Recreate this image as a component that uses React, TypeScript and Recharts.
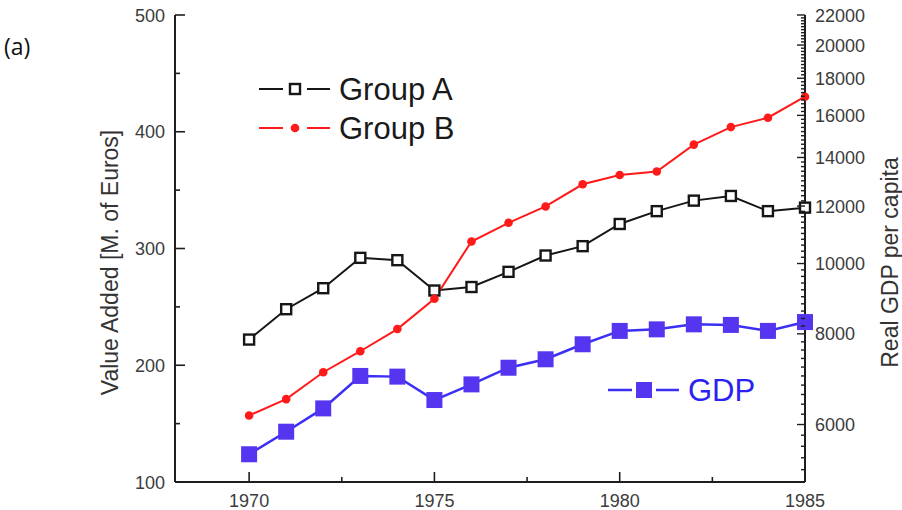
import React from "react";
import { ComposedChart, Line, XAxis, YAxis, Legend } from "recharts";

const years = [1970, 1971, 1972, 1973, 1974, 1975, 1976, 1977, 1978, 1979, 1980, 1981, 1982, 1983, 1984, 1985];
const groupA = [222, 248, 266, 292, 290, 264, 267, 280, 294, 302, 321, 332, 341, 345, 332, 335];
const groupB = [157, 171, 194, 212, 231, 257, 306, 322, 336, 355, 363, 366, 389, 404, 412, 430];
const gdp = [5460, 5865, 6315, 7000, 6985, 6485, 6815, 7185, 7380, 7740, 8075, 8115, 8245, 8230, 8075, 8305];

const xTicks = [1970, 1972.5, 1975, 1977.5, 1980, 1982.5, 1985];
const valueTicks = [100, 150, 200, 250, 300, 350, 400, 450, 500];
const gdpMajorTicks = [6000, 8000, 10000, 12000, 14000, 16000, 18000, 20000, 22000];
// minor ticks every 200 on the log axis
const gdpTicks = Array.from({ length: 86 }, (_, i) => 5000 + i * 200);

const data = years.map((year, i) => ({
  year,
  groupA: groupA[i],
  groupB: groupB[i],
  gdp: gdp[i],
}));

const AXIS = "#1e1e1e";
const LABEL = "#3c3c3c";
const FONT = '"Liberation Sans", Arial, sans-serif';
const BLACK = "#161616";
const RED = "#ff1a1a";
const BLUE = "#3b2ff5";
const BLUE_FILL = "#5535f0";

const BottomTick = ({ x, y, payload }: any) => {
  const major = payload.value % 5 === 0;
  return (
    <g>
      <line x1={x} x2={x} y1={y} y2={y - (major ? 10 : 5)} stroke={AXIS} strokeWidth={1.6} />
      {major && (
        <text x={x} y={y + 25} textAnchor="middle" fontSize={18} fill={LABEL} fontFamily={FONT}>
          {payload.value}
        </text>
      )}
    </g>
  );
};

const TopTick = ({ x, y, payload }: any) => {
  const major = payload.value % 5 === 0;
  return <line x1={x} x2={x} y1={y} y2={y + (major ? 10 : 5)} stroke={AXIS} strokeWidth={1.6} />;
};

const LeftTick = ({ x, y, payload }: any) => {
  const major = payload.value % 100 === 0;
  return (
    <g>
      <line x1={x} x2={x + (major ? 10 : 5)} y1={y} y2={y} stroke={AXIS} strokeWidth={1.6} />
      {major && (
        <text x={x - 10} y={y + 6.5} textAnchor="end" fontSize={18} fill={LABEL} fontFamily={FONT}>
          {payload.value}
        </text>
      )}
    </g>
  );
};

const RightTick = ({ x, y, payload }: any) => {
  const major = gdpMajorTicks.includes(payload.value);
  return (
    <g>
      <line x1={x} x2={x - (major ? 8 : 4)} y1={y} y2={y} stroke={AXIS} strokeWidth={1.4} />
      {major && (
        <text x={x + 10} y={y + 6.5} textAnchor="start" fontSize={18} fill={LABEL} fontFamily={FONT}>
          {payload.value}
        </text>
      )}
    </g>
  );
};

const LeftTitle = (props: any) => {
  const { viewBox } = props;
  const cx = viewBox.x + 110;
  const cy = viewBox.y + viewBox.height / 2 + 14;
  return (
    <text
      x={cx}
      y={cy}
      transform={`rotate(-90 ${cx} ${cy})`}
      textAnchor="middle"
      dominantBaseline="central"
      fontSize={23}
      fill="#333"
      fontFamily={FONT}
    >
      Value Added [M. of Euros]
    </text>
  );
};

const RightTitle = (props: any) => {
  const { viewBox } = props;
  const cx = viewBox.x + 85;
  const cy = viewBox.y + viewBox.height / 2 + 14;
  return (
    <text
      x={cx}
      y={cy}
      transform={`rotate(-90 ${cx} ${cy})`}
      textAnchor="middle"
      dominantBaseline="central"
      fontSize={23}
      fill="#333"
      fontFamily={FONT}
    >
      Real GDP per capita
    </text>
  );
};

const OpenSquare = ({ cx, cy, index }: any) => (
  <rect key={`a-${index}`} x={cx - 5} y={cy - 5} width={10} height={10} fill="#fff" stroke={BLACK} strokeWidth={2.4} />
);

const RedDot = ({ cx, cy, index }: any) => <circle key={`b-${index}`} cx={cx} cy={cy} r={4.3} fill={RED} />;

const BlueSquare = ({ cx, cy, index }: any) => (
  <rect key={`g-${index}`} x={cx - 8} y={cy - 8} width={16} height={16} fill={BLUE_FILL} />
);

const markerFor = (key: string, cx: number, cy: number) => {
  if (key === "groupA") return <OpenSquare cx={cx} cy={cy} index="lg" />;
  if (key === "groupB") return <RedDot cx={cx} cy={cy} index="lg" />;
  return <BlueSquare cx={cx} cy={cy} index="lg" />;
};

const legendSpots: Record<string, { x: number; y: number; text: string }> = {
  groupA: { x: 259, y: 89, text: "#1a1a1a" },
  groupB: { x: 259, y: 128, text: "#1a1a1a" },
  gdp: { x: 608, y: 390, text: "#2a22f0" },
};

const LegendOverlay = (props: any) => {
  const { payload = [] } = props;
  return (
    <svg width={902} height={510} style={{ position: "absolute", left: 0, top: 0, pointerEvents: "none" }}>
      {payload.map((entry: any) => {
        const key = entry.dataKey as string;
        const spot = legendSpots[key];
        if (!spot) return null;
        const mid = spot.x + 36;
        const w = key === "gdp" ? 2.5 : 2;
        return (
          <g key={key}>
            <line x1={spot.x} x2={spot.x + 24} y1={spot.y} y2={spot.y} stroke={entry.color} strokeWidth={w} />
            <line x1={spot.x + 48} x2={spot.x + 71} y1={spot.y} y2={spot.y} stroke={entry.color} strokeWidth={w} />
            {markerFor(key, mid, spot.y)}
            <text x={spot.x + 80} y={spot.y + 11} fontSize={31} fill={spot.text} fontFamily={FONT}>
              {entry.value}
            </text>
          </g>
        );
      })}
    </svg>
  );
};

export default function App() {
  return (
    <div style={{ position: "absolute", left: 0, top: 0, width: 902, height: 510, background: "#fff" }}>
      <div
        style={{
          position: "absolute",
          left: 4,
          top: 35,
          fontFamily: '"Open Sans", sans-serif',
          fontSize: 23,
          lineHeight: 1,
          color: "#111",
        }}
      >
        (a)
      </div>
      <ComposedChart width={902} height={510} data={data} margin={{ top: 15, right: 0, bottom: 0, left: 0 }}>
        <XAxis
          xAxisId="x"
          dataKey="year"
          type="number"
          domain={[1968, 1985]}
          ticks={xTicks}
          interval={0}
          height={28}
          tickSize={0}
          tickMargin={0}
          tickLine={false}
          tick={BottomTick}
          axisLine={{ stroke: AXIS, strokeWidth: 2 }}
        />
        <XAxis
          xAxisId="top"
          orientation="top"
          dataKey="year"
          type="number"
          domain={[1968, 1985]}
          ticks={xTicks}
          interval={0}
          height={0}
          tickSize={0}
          tickMargin={0}
          tickLine={false}
          tick={TopTick}
          axisLine={{ stroke: AXIS, strokeWidth: 2 }}
        />
        <YAxis
          yAxisId="left"
          width={175}
          type="number"
          domain={[100, 500]}
          ticks={valueTicks}
          interval={0}
          tickSize={0}
          tickMargin={0}
          tickLine={false}
          tick={LeftTick}
          axisLine={{ stroke: AXIS, strokeWidth: 2 }}
          label={LeftTitle}
        />
        <YAxis
          yAxisId="right"
          orientation="right"
          width={97}
          type="number"
          scale="log"
          domain={[5000, 22000]}
          allowDataOverflow
          ticks={gdpTicks}
          interval={0}
          tickSize={0}
          tickMargin={0}
          tickLine={false}
          tick={RightTick}
          axisLine={{ stroke: AXIS, strokeWidth: 2 }}
          label={RightTitle}
        />
        <Legend content={LegendOverlay} wrapperStyle={{ left: 0, top: 0, width: 0, height: 0 }} />
        <Line
          xAxisId="x"
          yAxisId="left"
          dataKey="groupA"
          name="Group A"
          stroke={BLACK}
          strokeWidth={2}
          dot={OpenSquare}
          activeDot={false}
          isAnimationActive={false}
        />
        <Line
          xAxisId="x"
          yAxisId="left"
          dataKey="groupB"
          name="Group B"
          stroke={RED}
          strokeWidth={2}
          dot={RedDot}
          activeDot={false}
          isAnimationActive={false}
        />
        <Line
          xAxisId="x"
          yAxisId="right"
          dataKey="gdp"
          name="GDP"
          stroke={BLUE}
          strokeWidth={2.5}
          dot={BlueSquare}
          activeDot={false}
          isAnimationActive={false}
        />
      </ComposedChart>
    </div>
  );
}
